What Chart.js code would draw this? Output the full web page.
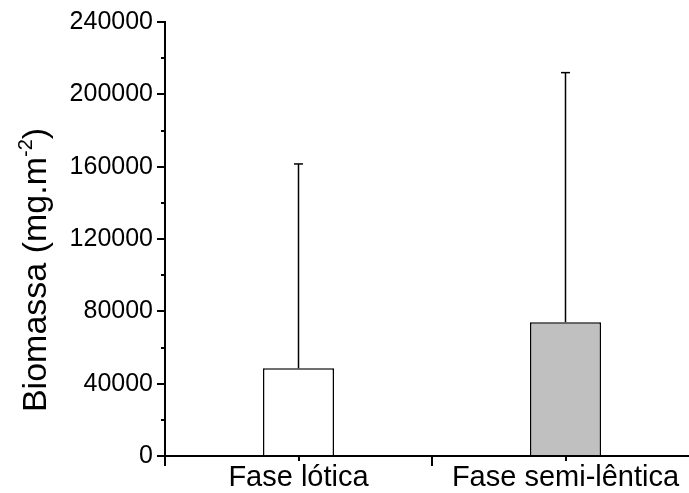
<!DOCTYPE html>
<html>
<head>
<meta charset="utf-8">
<script src="https://cdn.jsdelivr.net/npm/chart.js@4.4.1/dist/chart.umd.min.js"></script>
<style>
  html, body { margin: 0; padding: 0; background: #fff; overflow: hidden; }
  #wrap { width: 700px; height: 493px; }
</style>
</head>
<body>
<div id="wrap"><canvas id="grafico"></canvas></div>
<script>
const fases = ["Fase lótica", "Fase semi-lêntica"];
const biomassa = [48500, 74000];
const desvio = [113000, 138000];
const coresBarras = ["#ffffff", "#c0c0c0"];
const ticksY = [0, 40000, 80000, 120000, 160000, 200000, 240000];

const fonte = "'Liberation Sans', Arial, sans-serif";

// ticks menores, barras de erro e titulo do eixo y
const extras = {
  id: "extras",
  afterDatasetsDraw(chart) {
    const ctx = chart.ctx;
    const y = chart.scales.y;
    const x = chart.scales.x;
    ctx.save();
    ctx.strokeStyle = "#000";
    ctx.lineWidth = 1.5;

    const meta = chart.getDatasetMeta(0);
    meta.data.forEach((bar, i) => {
      const topo = y.getPixelForValue(biomassa[i] + desvio[i]);
      ctx.beginPath();
      ctx.moveTo(bar.x, bar.y);
      ctx.lineTo(bar.x, topo);
      ctx.stroke();
      ctx.beginPath();
      ctx.moveTo(bar.x - 4.5, topo);
      ctx.lineTo(bar.x + 4.5, topo);
      ctx.stroke();
    });

    ctx.lineWidth = 2;
    for (let v = 20000; v < 240000; v += 40000) {
      const py = Math.round(y.getPixelForValue(v));
      ctx.beginPath();
      ctx.moveTo(x.left, py);
      ctx.lineTo(x.left - 4, py);
      ctx.stroke();
    }
    fases.forEach((f, i) => {
      const px = Math.round(x.getPixelForValue(i));
      ctx.beginPath();
      ctx.moveTo(px, y.bottom);
      ctx.lineTo(px, y.bottom + 5);
      ctx.stroke();
    });

    const grande = "34px " + fonte;
    const pequeno = "20px " + fonte;
    const t1 = "Biomassa (mg.m";
    const t2 = "-2";
    const t3 = ")";
    ctx.font = grande;
    const w1 = ctx.measureText(t1).width;
    const w3 = ctx.measureText(t3).width;
    ctx.font = pequeno;
    const w2 = ctx.measureText(t2).width;
    const total = w1 + w2 + w3;
    ctx.translate(46, (y.top + y.bottom) / 2 + 31);
    ctx.rotate(-Math.PI / 2);
    ctx.fillStyle = "#000";
    ctx.textBaseline = "alphabetic";
    ctx.textAlign = "left";
    let cx = -total / 2;
    ctx.font = grande;
    ctx.fillText(t1, cx, 0);
    cx += w1;
    ctx.font = pequeno;
    ctx.fillText(t2, cx, -14);
    cx += w2;
    ctx.font = grande;
    ctx.fillText(t3, cx, 0);
    ctx.restore();
  }
};

new Chart(document.getElementById("grafico"), {
  type: "bar",
  data: {
    labels: fases,
    datasets: [{
      data: biomassa,
      backgroundColor: coresBarras,
      borderColor: "#000",
      borderWidth: 1.5,
      borderSkipped: "bottom",
      categoryPercentage: 1,
      barPercentage: 0.266
    }]
  },
  options: {
    responsive: true,
    maintainAspectRatio: false,
    animation: false,
    layout: { padding: { top: 22, right: 1, left: 0, bottom: 0 } },
    plugins: {
      legend: { display: false },
      tooltip: { enabled: false }
    },
    scales: {
      x: {
        grid: {
          offset: true,
          drawOnChartArea: false,
          drawTicks: true,
          tickLength: 10,
          color: "#000",
          lineWidth: 2
        },
        border: { color: "#000", width: 2 },
        ticks: {
          color: "#000",
          font: { family: fonte, size: 29 },
          padding: -5,
          maxRotation: 0,
          autoSkip: false
        },
        afterFit(scale) { scale.height = 37; }
      },
      y: {
        min: 0,
        max: 240000,
        afterBuildTicks(scale) {
          scale.ticks = ticksY.map(v => ({ value: v }));
        },
        grid: {
          drawOnChartArea: false,
          tickLength: 8,
          color: "#000",
          lineWidth: 2
        },
        border: { color: "#000", width: 2 },
        ticks: {
          color: "#000",
          font: { family: fonte, size: 25 },
          padding: 4,
          callback: v => String(v)
        },
        afterFit(scale) { scale.width = 165; }
      }
    }
  },
  plugins: [extras]
});
</script>
</body>
</html>
